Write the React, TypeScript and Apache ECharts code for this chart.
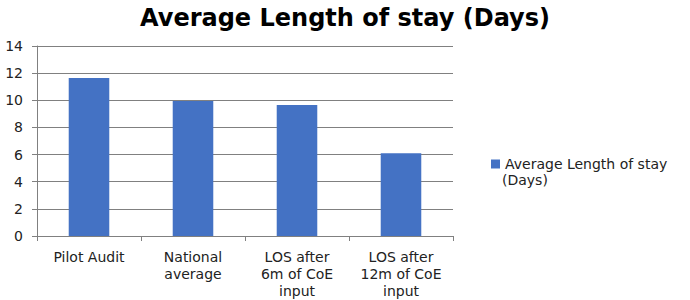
import React, { useEffect, useRef } from "react";
import * as echarts from "echarts";

const titleText = "Average Length of stay (Days)";
const seriesName = "Average Length of stay (Days)";
const categories = ["Pilot Audit", "National average", "LOS after 6m of CoE input", "LOS after 12m of CoE input"];
const categoryLines = ["Pilot Audit", "National\naverage", "LOS after\n6m of CoE\ninput", "LOS after\n12m of CoE\ninput"];
const values = [11.65, 9.95, 9.65, 6.1];
const yTicks = { min: 0, max: 14, interval: 2 };

export default function App() {
  const ref = useRef<HTMLDivElement>(null);
  useEffect(() => {
    if (!ref.current) return;
    const chart = echarts.init(ref.current, null, { renderer: "svg" });
    const font = "DejaVu Sans";
    chart.setOption({
      animation: false,
      backgroundColor: "#ffffff",
      title: {
        text: titleText,
        left: "center",
        top: 1,
        textStyle: { fontFamily: font, fontWeight: "bold", fontSize: 24, color: "#000" },
      },
      grid: { left: 37, right: 237, top: 46, bottom: 64, containLabel: false },
      legend: {
        data: [seriesName],
        left: 486,
        top: 152,
        itemWidth: 9,
        itemHeight: 9,
        itemGap: 0,
        icon: "rect",
        formatter: () => "Average Length of stay",
        textStyle: { fontFamily: font, fontSize: 14, color: "#222" },
      },
      graphic: [
        {
          type: "text",
          left: 502,
          top: 173,
          style: { text: "(Days)", fontFamily: font, fontSize: 14, fill: "#222" },
        },
      ],
      xAxis: {
        type: "category",
        data: categories,
        axisLine: { show: true, lineStyle: { color: "#808080", width: 1 } },
        axisTick: { show: true, length: 5, alignWithLabel: false, lineStyle: { color: "#808080" } },
        axisLabel: {
          interval: 0,
          margin: 12,
          fontFamily: font,
          fontSize: 14,
          color: "#222",
          lineHeight: 17,
          formatter: (_v: string, i: number) => categoryLines[i],
        },
      },
      yAxis: {
        type: "value",
        min: yTicks.min,
        max: yTicks.max,
        interval: yTicks.interval,
        axisLine: { show: true, lineStyle: { color: "#808080", width: 1 } },
        axisTick: { show: true, length: 5, lineStyle: { color: "#808080" } },
        splitLine: { show: true, lineStyle: { color: "#808080", width: 1 } },
        axisLabel: { margin: 14, fontFamily: font, fontSize: 14, color: "#222" },
      },
      series: [
        {
          name: seriesName,
          type: "bar",
          data: values,
          barWidth: "39%",
          itemStyle: { color: "#4472C4" },
        },
      ],
    });
    return () => chart.dispose();
  }, []);
  return <div ref={ref} style={{ width: 690, height: 300, position: "absolute", left: 0, top: 0 }} />;
}
